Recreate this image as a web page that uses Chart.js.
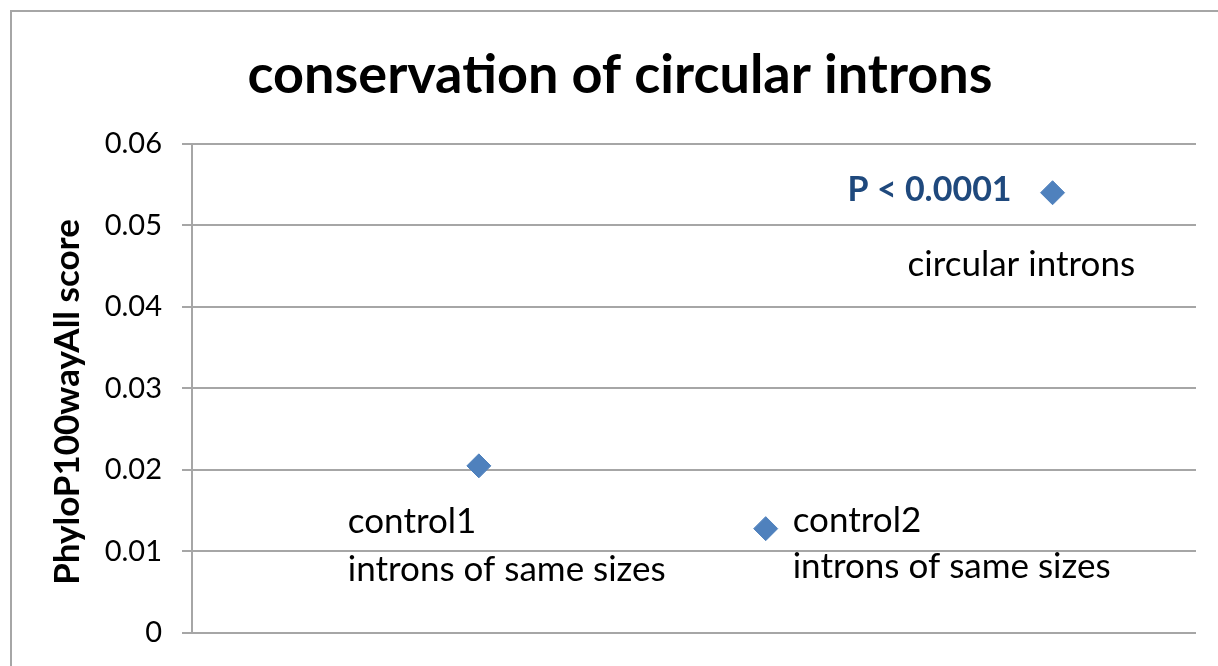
<!DOCTYPE html>
<html>
<head>
<meta charset="utf-8">
<script src="https://cdn.jsdelivr.net/npm/chart.js@4/dist/chart.umd.min.js"></script>
<style>
    html, body { margin: 0; padding: 0; background: #fff; }
    #wrap { width: 1218px; height: 666px; }
</style>
</head>
<body>
<div id="wrap"><canvas id="scoreChart" width="1218" height="666"></canvas></div>
<script>
// Data
var categories = ['control1', 'control2', 'circular introns'];
var xPositions = [1, 2, 3];
var scores = [0.0205, 0.0128, 0.054];
var pointLabels = [
    ['control1', 'introns of same sizes'],
    ['control2', 'introns of same sizes'],
    ['circular introns']
];
var pValueText = 'P < 0.0001';
var yTicks = [0, 0.01, 0.02, 0.03, 0.04, 0.05, 0.06];
var chartTitle = 'conservation of circular introns';
var yTitle = 'PhyloP100wayAll score';

var font = 'Lato, "Open Sans", sans-serif';

// label placement relative to each point (pixels)
var labelLayout = [
    { dx: -131, dy: 67, lineGap: 48 },
    { dx: 27, dy: 3, lineGap: 46 },
    { dx: -145, dy: 83, lineGap: 46 }
];

var points = [];
for (var i = 0; i < scores.length; i++) {
    points.push({ x: xPositions[i], y: scores[i] });
}

// frame, y title and data labels
var decorations = {
    id: 'decorations',
    beforeDraw: function (chart) {
        var ctx = chart.ctx;
        ctx.save();
        ctx.strokeStyle = '#a6a6a6';
        ctx.lineWidth = 2;
        ctx.beginPath();
        ctx.moveTo(11, 670);
        ctx.lineTo(11, 11);
        ctx.lineTo(1220, 11);
        ctx.stroke();
        ctx.restore();
    },
    afterDatasetsDraw: function (chart) {
        var ctx = chart.ctx;
        var meta = chart.getDatasetMeta(0);
        ctx.save();

        // y axis title
        ctx.translate(68, 402);
        ctx.rotate(-Math.PI / 2);
        ctx.font = 'bold 35px ' + font;
        ctx.fillStyle = '#000';
        ctx.textAlign = 'center';
        ctx.textBaseline = 'middle';
        ctx.fillText(yTitle, 0, 0);
        ctx.setTransform(1, 0, 0, 1, 0, 0);

        ctx.font = '35px ' + font;
        ctx.textAlign = 'left';
        ctx.textBaseline = 'alphabetic';
        for (var i = 0; i < meta.data.length; i++) {
            var pt = meta.data[i];
            var lay = labelLayout[i];
            var lines = pointLabels[i];
            for (var j = 0; j < lines.length; j++) {
                ctx.fillText(lines[j], pt.x + lay.dx, pt.y + lay.dy + j * lay.lineGap);
            }
        }

        // significance label next to the circular introns point
        var last = meta.data[meta.data.length - 1];
        ctx.font = 'bold 34px ' + font;
        ctx.fillStyle = '#1f497d';
        ctx.textAlign = 'right';
        ctx.fillText(pValueText, last.x - 41, last.y + 8);
        ctx.restore();
    }
};

var ctx = document.getElementById('scoreChart').getContext('2d');
var chart = new Chart(ctx, {
    type: 'scatter',
    data: {
        datasets: [{
            label: 'PhyloP score',
            data: points,
            pointStyle: 'rectRot',
            pointRadius: 12,
            pointHoverRadius: 12,
            backgroundColor: '#4f81bd',
            borderColor: '#4f81bd',
            borderWidth: 1
        }]
    },
    options: {
        responsive: false,
        animation: false,
        layout: { padding: { top: 0, right: 22, bottom: 33, left: 44 } },
        plugins: {
            legend: { display: false },
            tooltip: { enabled: false },
            title: {
                display: true,
                text: chartTitle,
                color: '#000',
                font: { family: font, size: 54, weight: 'bold' },
                padding: { top: 43, bottom: 36 }
            }
        },
        scales: {
            x: {
                type: 'linear',
                display: false,
                min: 0,
                max: 3.5
            },
            y: {
                min: 0,
                max: 0.06,
                afterFit: function (scale) {
                    scale.width = 148;
                    scale.paddingTop = 0;
                    scale.paddingBottom = 0;
                },
                afterBuildTicks: function (scale) {
                    scale.ticks = yTicks.map(function (v) { return { value: v }; });
                },
                border: { display: true, color: '#a6a6a6', width: 2 },
                grid: {
                    color: '#a6a6a6',
                    lineWidth: 2,
                    tickLength: 10
                },
                ticks: {
                    color: '#000',
                    padding: 20,
                    font: { family: font, size: 29 },
                    callback: function (v) { return String(Math.round(v * 100) / 100); }
                }
            }
        }
    },
    plugins: [decorations]
});
</script>
</body>
</html>
